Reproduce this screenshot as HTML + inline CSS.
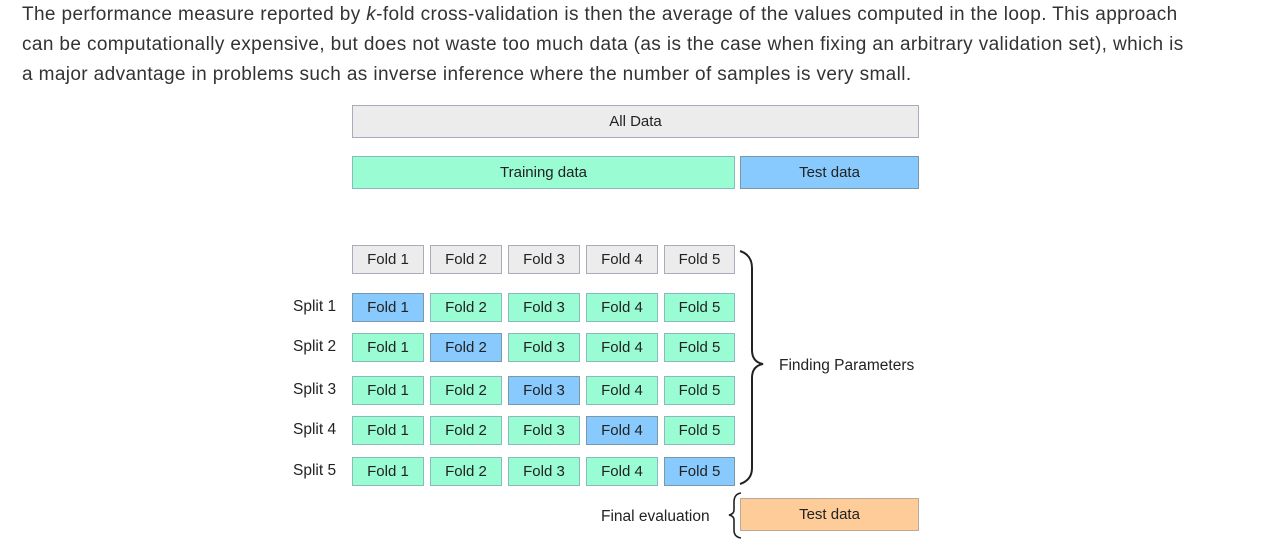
<!DOCTYPE html>
<html><head><style>
body{margin:0;background:#fff;width:1285px;height:545px;position:relative;overflow:hidden;font-family:"Liberation Sans",sans-serif}
.p{position:absolute;left:22px;top:0px;font-size:19px;letter-spacing:0.38px;line-height:30px;color:#333;white-space:nowrap}
.b{position:absolute;box-sizing:border-box;border:1px solid #9aa;display:flex;align-items:center;justify-content:center;font-size:15px;color:#222}
.g{background:#99fcd3;border-color:#8bb}
.u{background:#88cafe;border-color:#79a}
.w{background:#ececec;border-color:#aab}
.o{background:#fecc99;border-color:#ba9}
.l{position:absolute;font-size:15.5px;color:#222}
</style></head><body>
<div class="p">The performance measure reported by <i>k</i>-fold cross-validation is then the average of the values computed in the loop. This approach<br>can be computationally expensive, but does not waste too much data (as is the case when fixing an arbitrary validation set), which is<br>a major advantage in problems such as inverse inference where the number of samples is very small.</div>
<div class="b w" style="left:352px;top:105px;width:567px;height:33px">All Data</div>
<div class="b g" style="left:352px;top:156px;width:383px;height:33px">Training data</div>
<div class="b u" style="left:740px;top:156px;width:179px;height:33px">Test data</div>
<div class="b o" style="left:740px;top:498px;width:179px;height:33px">Test data</div>
<div id="grid"></div>
<div class="l" style="left:779px;top:357px">Finding Parameters</div>
<div class="l" style="left:601px;top:508px">Final evaluation</div>
<svg style="position:absolute;left:0;top:0" width="1285" height="545">
<path d="M740,251 Q752,255 752,268 L752,350 Q752,362 763,364 Q752,366 752,378 L752,468 Q752,480 740,484" fill="none" stroke="#222" stroke-width="2"/>
<path d="M741,493 Q734,494 734,502 L734,510 Q734,514 729,515 Q734,516 734,520 L734,530 Q734,537 741,538" fill="none" stroke="#222" stroke-width="1.6"/>
</svg>
<script>
var xs=[352,430,508,586,664],ws=[72,72,72,72,71],ys=[245,293,333,376,416,457],h='';
for(var r=0;r<6;r++){
 if(r>0)h+='<div class="l" style="left:293px;top:'+(ys[r]+5)+'px">Split '+r+'</div>';
 for(var c=0;c<5;c++){var cl=r==0?'w':(c==r-1?'u':'g');
 h+='<div class="b '+cl+'" style="left:'+xs[c]+'px;top:'+ys[r]+'px;width:'+ws[c]+'px;height:29px">Fold '+(c+1)+'</div>';}
}
document.getElementById('grid').innerHTML=h;
</script>
</body></html>
